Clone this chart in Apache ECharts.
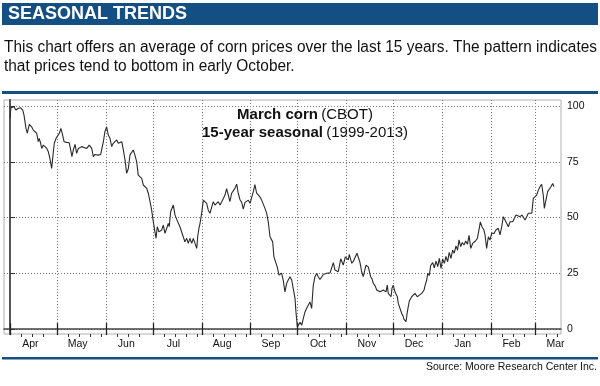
<!DOCTYPE html>
<html>
<head>
<meta charset="utf-8">
<script src="https://cdn.jsdelivr.net/npm/echarts@6/dist/echarts.min.js"></script>
<style>
html,body{margin:0;padding:0;background:#fff;}
#chart{width:600px;height:386px;}
</style>
</head>
<body>
<div id="chart"></div>
<script>
// ---- data ----
const months = ['Apr','May','Jun','Jul','Aug','Sep','Oct','Nov','Dec','Jan','Feb','Mar'];
const monthStarts = [0,30,61,91,122,153,183,214,244,275,306,334]; // days since Apr 1
const yTicks = [0,25,50,75,100];
const days = [0,0.6,1.7,2.5,3.8,5.3,6.8,8.1,8.9,10.2,11.0,12.3,13.8,14.8,15.9,17.0,18.0,18.6,19.5,20.2,21.2,22.3,23.4,24.4,25.4,26.5,27.5,28.2,29.3,30.1,31.4,32.4,33.5,34.4,36.1,37.7,38.6,39.4,40.3,41.4,42.4,43.5,44.5,45.6,46.6,48.8,50.4,52.0,53.0,54.1,55.2,56.2,57.7,58.7,59.4,60.4,61.5,62.5,63.6,64.7,65.7,66.8,67.9,68.9,70.0,71.1,72.1,73.2,74.2,75.3,76.3,77.4,78.4,79.5,80.6,81.6,82.7,83.8,84.8,85.9,87.0,88.0,89.1,90.1,91.2,92.2,92.9,93.7,94.8,96.5,97.5,98.6,99.7,100.7,101.3,102.2,103.2,103.9,105.0,106.0,107.1,108.1,109.2,110.2,111.3,112.4,113.4,114.5,115.6,116.6,117.7,118.8,119.4,120.2,120.9,121.9,123.0,124.0,125.1,126.1,127.2,128.3,129.3,130.4,131.5,132.5,133.6,134.7,135.7,136.8,137.8,138.9,139.9,141.0,142.0,143.1,144.2,145.2,146.3,147.4,148.4,149.5,150.6,151.6,152.7,153.7,154.8,155.8,156.9,157.9,159.0,160.1,161.1,162.2,163.3,164.3,165.4,166.5,167.1,167.9,169.0,170.0,171.1,171.8,172.8,173.8,174.9,176.0,177.0,178.1,179.2,180.2,181.3,181.9,182.8,183.4,184.5,185.6,186.6,187.7,188.7,189.8,190.8,191.9,192.9,194.0,195.1,196.1,197.2,198.3,199.3,200.4,201.5,203.6,205.7,206.7,207.8,208.8,210.4,212.0,213.3,215.2,215.8,217.4,218.5,219.5,220.7,222.6,223.7,224.7,226.5,227.9,229.4,230.3,231.1,232.2,233.3,234.3,235.4,236.4,237.5,239.2,240.0,240.6,241.3,242.4,243.0,243.8,244.9,246.4,247.0,247.6,249.2,250.2,250.6,251.9,252.7,254.0,255.5,256.5,257.6,259.1,260.4,261.9,263.4,264.0,265.1,265.7,266.7,267.6,268.9,269.9,271.0,272.1,273.1,274.2,275.2,276.3,277.3,278.4,279.4,280.5,281.6,282.6,283.7,284.7,285.6,286.7,287.7,288.8,289.9,291.0,292.0,293.1,294.3,295.2,296.1,297.3,298.3,299.2,300.2,301.5,302.2,303.2,304.3,305.3,306.4,307.9,309.1,310.6,311.7,312.8,313.8,314.9,316.0,317.0,318.1,319.8,320.8,321.9,323.1,324.4,325.7,326.6,327.6,328.7,329.7,330.8,331.9,332.9,334.0,335.0,336.1,337.1,338.2,339.2,339.9,341.0,342.0,343.1,344.1,345.2,346.0];
const values = [94.5,99.2,98.6,99.7,98.2,99,99.2,98.2,96,90,87.8,91.8,90.7,89.2,88.5,87.8,84,85.5,83.3,81,82.5,82.8,81,79.5,76.5,72,78.8,83.3,85.5,86.2,87.8,90,87,84,83.7,83.5,80.3,77.3,80.3,82.8,78.8,81,80.3,81.8,81.5,81,82.5,81,77.3,78.3,78.8,78,78.3,78.8,84,88.5,90.7,87,85.5,81.8,83.3,82.5,84.8,83.3,82.5,84,80.3,75.8,69.8,72,78,78.8,80.3,78,75,69,69.8,67.6,64.6,65.3,63.1,60.9,57.1,53.4,48.1,43.6,40.7,45.9,43.6,44.4,46.6,42.9,45.2,47.4,45.9,52.6,53.4,55.6,51.1,51.9,47.4,45.9,45.2,41.4,39.1,40.7,38.4,40.7,38.4,40.7,38.4,36.2,41.4,45.2,47.4,51.9,57.8,58.6,56.4,53.4,51.9,52.6,57.1,55.6,56.4,57.1,55.6,57.1,56.4,60.1,63,60.1,57.1,60.9,61.6,63.1,65,60.9,58,56.8,53.8,56.8,56.4,57.8,56.4,57.1,61.6,64.8,60.9,60.1,59.3,57.8,57.1,54.1,51.9,48.1,41.4,42.2,39.1,32.4,31.7,27.9,24.2,23.5,25,22,16.7,20.5,22,23.5,22,21.2,13.8,7.8,1,0.3,3,1.8,4.8,7.8,9.3,10.8,12.2,9.3,19.5,23.5,25,23.5,22.2,22.5,24.5,24.5,25,25.2,29.8,26.5,26.2,25.7,31.5,28.7,32.4,31,33.5,29.5,30.5,31,34,30,25.7,23.5,28.7,27.9,23.5,22.5,20.5,19.5,17.5,17.5,16.7,16.7,17.5,16.7,19.7,16,15.2,14.5,18.3,19.7,16.7,14.5,11.5,10.8,7,5.5,4.5,3.3,7.5,12.6,14.5,14.5,16,14.5,15.2,16,17.5,19.5,22,25,24,28.5,29.8,27.5,30.5,28,31.7,27.2,31.5,29.5,32.6,30.2,34.4,31.7,35.4,34,37.3,35.4,40,37,38.8,37.7,39.5,38,42,36.2,38.4,39.1,39.5,40.7,44.4,48.1,45.9,44.4,42.2,36.2,41.4,39.9,42.9,42.9,44.4,45.2,42.2,45.9,50.4,48.9,48.1,45.9,48.1,48.1,49.6,51.1,51.1,50.4,51.1,50.4,48.9,50.4,51.9,52.6,51.9,58.6,57.8,60.1,62.3,63.8,64.9,60.1,54.1,53.7,61.6,62.3,63.8,65.3,63.8];
const headline = 'SEASONAL TRENDS';
const introLines = ['This chart offers an average of corn prices over the last 15 years. The pattern indicates',
                    'that prices tend to bottom in early October.'];
const sourceText = 'Source: Moore Research Center Inc.';

// ---- derived ----
const seriesData = days.map((d, i) => [d, values[i]]);
const labelDays = monthStarts.map(d => d + 13);
const labelMap = {};
labelDays.forEach((d, i) => { labelMap[d] = months[i]; });
const weekTicks = [];
monthStarts.forEach((s, i) => {
  const next = i + 1 < monthStarts.length ? monthStarts[i + 1] : 365;
  for (let w = 7; w < next - s - 2; w += 7) weekTicks.push(s + w);
});
const X_MIN = -3.8, X_MAX = 350.5, Y_MIN = -2.2, Y_MAX = 102.7;
const SANS = "'Liberation Sans',Arial,sans-serif";
const BLUE = '#134f82';

// condensed look for the intro paragraph: squeeze Liberation Sans to the reference width
const INTRO_FONT = "16px " + SANS;
const mctx = document.createElement('canvas').getContext('2d');
mctx.font = INTRO_FONT;
const introScale = 593 / mctx.measureText(introLines[0]).width;

const chart = echarts.init(document.getElementById('chart'), null, {renderer: 'canvas'});
const baseX = {
  type: 'value', min: X_MIN, max: X_MAX, position: 'bottom',
  axisLine: {show: false}, axisLabel: {show: false}, splitLine: {show: false},
  axisTick: {show: false}
};
chart.setOption({
  animation: false,
  grid: {left: 4, right: 39, top: 100, bottom: 52, show: true, borderColor: '#b0b0b0', borderWidth: 1},
  xAxis: [
    Object.assign({}, baseX, {
      axisLine: {show: true, lineStyle: {color: '#444', width: 1.5}},
      axisTick: {show: true, customValues: monthStarts, length: 6, lineStyle: {color: '#222', width: 1.3}},
      axisLabel: {show: true, customValues: labelDays, formatter: v => labelMap[v] || '',
        fontFamily: SANS, fontSize: 10.5, color: '#111', margin: 5},
      splitLine: {show: true, lineStyle: {color: '#777', type: [1, 2], width: 1}}
    }),
    Object.assign({}, baseX, {
      axisTick: {show: true, inside: true, customValues: monthStarts, length: 6, lineStyle: {color: '#222', width: 1.3}}
    }),
    Object.assign({}, baseX, {
      axisTick: {show: true, customValues: weekTicks, length: 3, lineStyle: {color: '#333', width: 1}}
    })
  ],
  yAxis: [
    {
      type: 'value', min: Y_MIN, max: Y_MAX, position: 'right',
      axisLine: {show: true, lineStyle: {color: '#999', width: 1}},
      axisTick: {show: true, customValues: yTicks, length: 5, lineStyle: {color: '#333'}},
      axisLabel: {show: true, customValues: yTicks, fontFamily: SANS, fontSize: 10.5, color: '#111', margin: 6},
      splitLine: {show: true, lineStyle: {color: '#777', type: [1, 2], width: 1}}
    },
    {
      type: 'value', min: Y_MIN, max: Y_MAX, position: 'left',
      axisLine: {show: true, lineStyle: {color: '#555', width: 2}},
      axisTick: {show: false}, axisLabel: {show: false}, splitLine: {show: false}
    }
  ],
  series: [{
    type: 'line', data: seriesData, xAxisIndex: 0, yAxisIndex: 0,
    showSymbol: false, symbol: 'none',
    lineStyle: {color: '#2a2a2a', width: 1.1}, z: 5
  }],
  graphic: [
    {type: 'rect', shape: {x: 2, y: 3, width: 596, height: 22}, style: {fill: BLUE}, silent: true},
    {type: 'text', x: 8, y: 14, style: {text: headline, fill: '#fff', font: "bold 18px " + SANS, textVerticalAlign: 'middle'}},
    {type: 'text', x: 4, y: 48, scaleX: introScale, style: {text: introLines[0], fill: '#111', font: INTRO_FONT, textVerticalAlign: 'middle'}},
    {type: 'text', x: 4, y: 67, scaleX: introScale, style: {text: introLines[1], fill: '#111', font: INTRO_FONT, textVerticalAlign: 'middle'}},
    {type: 'rect', shape: {x: 2, y: 91, width: 596, height: 3}, style: {fill: BLUE}, silent: true},
    {type: 'rect', shape: {x: 2, y: 357, width: 596, height: 2.5}, style: {fill: BLUE}, silent: true},
    {type: 'text', x: 597, y: 367, style: {text: sourceText, fill: '#111', font: "10.5px " + SANS, textAlign: 'right', textVerticalAlign: 'middle'}},
    {type: 'text', x: 305, y: 115, z: 10, style: {
      text: '{b|March corn} {r|(CBOT)}', textAlign: 'center', textVerticalAlign: 'middle',
      rich: {b: {font: "bold 15px " + SANS, fill: '#111'}, r: {font: "15px " + SANS, fill: '#111'}}}},
    {type: 'text', x: 305, y: 133, z: 10, style: {
      text: '{b|15-year seasonal} {r|(1999-2013)}', textAlign: 'center', textVerticalAlign: 'middle',
      rich: {b: {font: "bold 15px " + SANS, fill: '#111'}, r: {font: "15px " + SANS, fill: '#111'}}}}
  ]
});
</script>
</body>
</html>
